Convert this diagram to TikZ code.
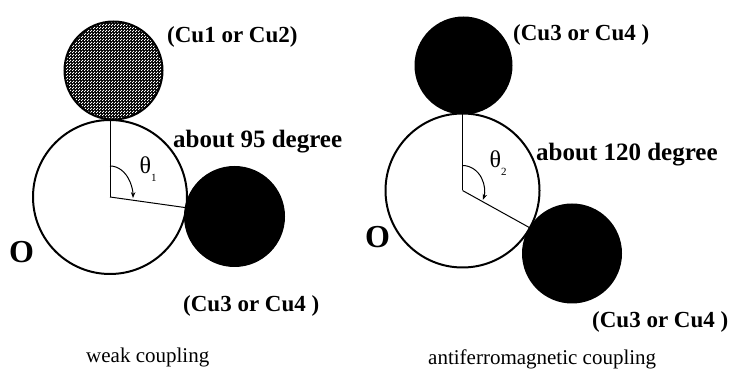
\documentclass[tikz,border=0pt]{standalone}
\usepackage{fontspec}
\setmainfont{Liberation Serif}
\usetikzlibrary{patterns,arrows.meta}
\pgfdeclarepatternformonly{finedots}{\pgfqpoint{0pt}{0pt}}{\pgfqpoint{3pt}{3pt}}{\pgfqpoint{3pt}{3pt}}{%
  \pgfpathrectangle{\pgfqpoint{0pt}{0pt}}{\pgfqpoint{1.4pt}{1.4pt}}%
  \pgfpathrectangle{\pgfqpoint{1.5pt}{1.5pt}}{\pgfqpoint{1.4pt}{1.4pt}}%
  \pgfusepath{fill}}
\begin{document}
\begin{tikzpicture}[x=1pt,y=1pt,
  atom/.style={circle,draw=black,line width=2pt,inner sep=0pt,outer sep=0pt,minimum size=#1},
  hatchatom/.style={atom=#1,preaction={fill=black},pattern=finedots,pattern color=white},
  bigO/.style={atom=154pt,fill=white},
  blackatom/.style={atom=#1,fill=black},
  radial/.style={line width=1pt},
  anglearc/.style={line width=1pt,-{Stealth[length=6pt,width=4.5pt]}},
  lbl/.style={inner sep=0pt,anchor=base west,font=\fontsize{23}{26}\selectfont\bfseries},
  deg/.style={inner sep=0pt,anchor=base west,font=\fontsize{25}{28}\selectfont\bfseries},
  olbl/.style={inner sep=0pt,anchor=base west,font=\fontsize{32}{35}\selectfont\bfseries},
  captxt/.style={inner sep=0pt,anchor=base west,font=\fontsize{21}{24}\selectfont},
  thetatxt/.style={inner sep=0pt,anchor=base west,font=\fontsize{24}{26}\selectfont}
]
\useasboundingbox (0,0) rectangle (730,374);
% ---------- left panel ----------
\node[hatchatom=98pt] (Cu12) at (113.5,303.5) {};
\node[bigO] (O1) at (110,177) {};
\node[blackatom=99pt] (Cu34a) at (234.5,157.5) {};
\draw[radial] (O1.center) -- (O1.north);
\draw[radial] (O1.center) -- (O1.-8.9);
\draw[anglearc] ([yshift=31pt]O1.center) arc[start angle=90,end angle=-2,x radius=23,y radius=31];
\node[thetatxt] (th1) at (139.5,200) {θ\raisebox{-8pt}{\fontsize{11}{12}\selectfont 1}};
\node[lbl] (l1) at (167,331) {(Cu1 or Cu2)};
\node[deg] (d1) at (173,226) {about 95 degree};
\node[olbl] (o1) at (9,111) {O};
\node[lbl] (l2) at (183,62) {(Cu3 or Cu4 )};
\node[captxt] (c1) at (86,11) {weak coupling};
% ---------- right panel ----------
\node[blackatom=96pt] (Cu34b) at (463.5,308.5) {};
\node[bigO] (O2) at (462.5,183.5) {};
\node[blackatom=98pt] (Cu34c) at (572,120.5) {};
\draw[radial] (O2.center) -- (O2.north);
\draw[radial] (O2.center) -- (O2.-29.9);
\draw[anglearc] ([yshift=25pt]O2.center) arc[start angle=90,end angle=-22,x radius=22,y radius=25];
\node[thetatxt] (th2) at (489.5,206) {θ\raisebox{-8pt}{\fontsize{11}{12}\selectfont 2}};
\node[lbl] (l3) at (513,333) {(Cu3 or Cu4 )};
\node[deg] (d2) at (536,213) {about 120 degree};
\node[olbl] (o2) at (365,126) {O};
\node[lbl] (l4) at (592,46) {(Cu3 or Cu4 )};
\node[captxt] (c2) at (428,9) {antiferromagnetic coupling};
\end{tikzpicture}
\end{document}
